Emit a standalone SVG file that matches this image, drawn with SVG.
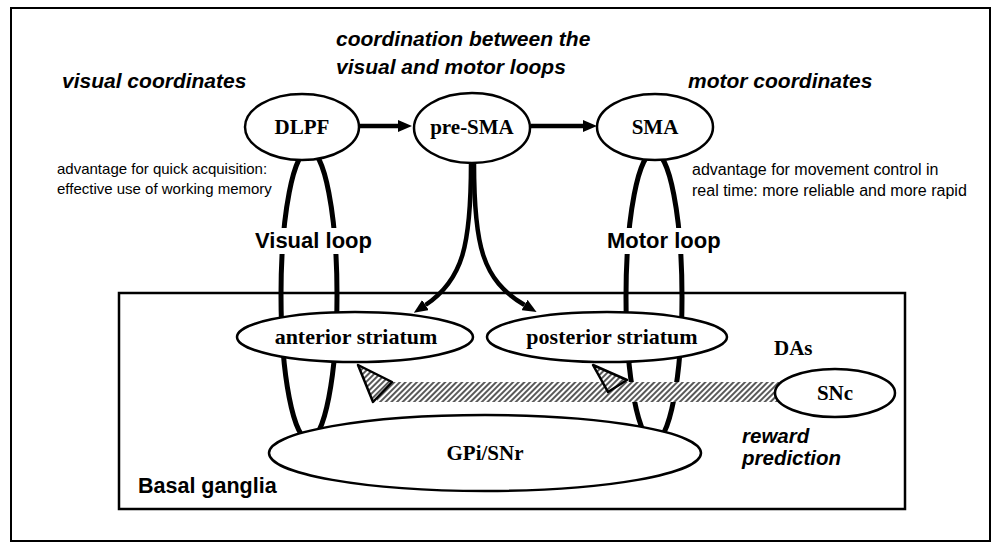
<svg xmlns="http://www.w3.org/2000/svg" width="998" height="548" viewBox="0 0 998 548">
<defs>
<style>
.node{fill:#fff;stroke:#000;stroke-width:2.5}
.nt{font-family:"Liberation Serif","Times New Roman",serif;font-weight:bold;font-size:21px;text-anchor:middle;fill:#000}
.hd{font-family:"Liberation Sans",Arial,sans-serif;font-weight:bold;font-style:italic;font-size:21px;fill:#000}
.lb{font-family:"Liberation Sans",Arial,sans-serif;font-weight:bold;font-size:22px;fill:#000}
.tx{font-family:"Liberation Sans",Arial,sans-serif;font-size:15px;fill:#000}
.loop{fill:none;stroke:#000;stroke-width:5}
.arr{fill:none;stroke:#000;stroke-width:4.5}
</style>
<marker id="ah" viewBox="0 0 14 12" refX="0" refY="6" markerUnits="userSpaceOnUse" markerWidth="14" markerHeight="12" orient="auto">
<path d="M0,0 L14,6 L0,12 z" fill="#000"/>
</marker>
<pattern id="hatch" width="4" height="4" patternUnits="userSpaceOnUse" patternTransform="rotate(45)">
<rect width="4" height="4" fill="#fff"/>
<line x1="1" y1="0" x2="1" y2="4" stroke="#000" stroke-width="1.3"/>
</pattern>
</defs>
<rect x="11" y="8" width="979" height="533" fill="#fff" stroke="#000" stroke-width="2"/>
<g id="basal-ganglia">
<rect x="119" y="293" width="786" height="216" fill="none" stroke="#000" stroke-width="2.5"/>
<text class="lb" x="138" y="493" style="font-size:21.5px">Basal ganglia</text>
</g>
<g id="connectors">
<ellipse class="loop" cx="309" cy="295" rx="28" ry="145"/>
<ellipse class="loop" cx="654" cy="297" rx="28" ry="145"/>
<line class="arr" x1="360" y1="126" x2="398" y2="126" marker-end="url(#ah)"/>
<line class="arr" x1="531" y1="126" x2="583" y2="126" marker-end="url(#ah)"/>
<path class="arr" d="M471,163 C471,245 463,280 425.5,305" marker-end="url(#ah)"/>
<path class="arr" d="M474,163 C474,245 482,280 524.5,305" marker-end="url(#ah)"/>
</g>
<g id="labels">
<text class="hd" x="62" y="88">visual coordinates</text>
<text class="hd" x="336" y="46">coordination between the</text>
<text class="hd" x="336" y="74">visual and motor loops</text>
<text class="hd" x="688" y="88">motor coordinates</text>
<text class="tx" x="57" y="174">advantage for quick acquisition:</text>
<text class="tx" x="57" y="194">effective use of working memory</text>
<text class="tx" x="692" y="175" style="font-size:16px">advantage for movement control in</text>
<text class="tx" x="692" y="196" style="font-size:16px">real time: more reliable and more rapid</text>
<rect x="250" y="228" width="124" height="26" fill="#fff"/>
<text class="lb" x="255" y="248">Visual loop</text>
<rect x="603" y="228" width="120" height="26" fill="#fff"/>
<text class="lb" x="607" y="248">Motor loop</text>
<text class="nt" x="774" y="355" style="text-anchor:start">DAs</text>
<text class="hd" x="742" y="443" style="font-size:20.5px">reward</text>
<text class="hd" x="742" y="465" style="font-size:20.5px">prediction</text>
</g>
<g id="DLPF"><ellipse class="node" cx="302" cy="127" rx="57" ry="33"/><text class="nt" x="302" y="134">DLPF</text></g>
<g id="pre-SMA"><ellipse class="node" cx="472" cy="128" rx="58" ry="35"/><text class="nt" x="472" y="134">pre-SMA</text></g>
<g id="SMA"><ellipse class="node" cx="655" cy="127" rx="58" ry="33"/><text class="nt" x="655" y="134">SMA</text></g>
<g id="anterior-striatum"><ellipse class="node" cx="355" cy="337" rx="118" ry="25"/><text class="nt" x="356" y="344" style="font-size:22px">anterior striatum</text></g>
<g id="posterior-striatum"><ellipse class="node" cx="607" cy="337" rx="120" ry="25"/><text class="nt" x="612" y="344" style="font-size:22px">posterior striatum</text></g>
<g id="GPi-SNr"><ellipse class="node" cx="485" cy="453" rx="216" ry="38"/><text class="nt" x="485" y="460">GPi/SNr</text></g>
<g id="dopamine-projection">
<rect x="377" y="382" width="402" height="20" fill="url(#hatch)"/>
<polygon points="358,365 392,382 373,402" fill="url(#hatch)" stroke="#000" stroke-width="2.5" stroke-linejoin="round"/>
<polygon points="593,365 627,380 608,392" fill="url(#hatch)" stroke="#000" stroke-width="2.5" stroke-linejoin="round"/>
</g>
<g id="SNc"><ellipse class="node" cx="835" cy="393" rx="60" ry="24"/><text class="nt" x="835" y="400">SNc</text></g>
</svg>
